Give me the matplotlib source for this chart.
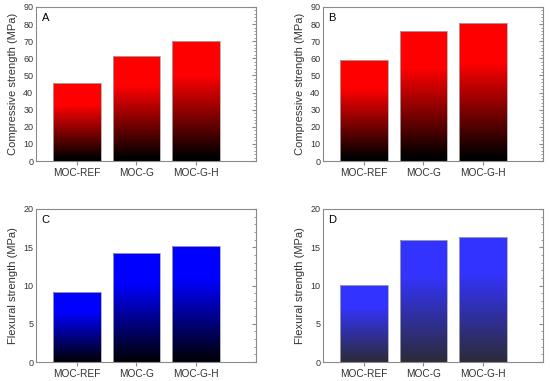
import matplotlib
matplotlib.use("Agg")
import matplotlib.pyplot as plt
import numpy as np
from matplotlib.colors import LinearSegmentedColormap
from matplotlib.ticker import MultipleLocator

plt.rcParams["font.family"] = ["Liberation Sans", "DejaVu Sans"]

samples = ["MOC-REF", "MOC-G", "MOC-G-H"]
comp_a = [45.7, 61.5, 70.2]
comp_b = [59.0, 75.8, 80.5]
flex_c = [9.1, 14.3, 15.1]
flex_d = [10.1, 15.9, 16.3]

GREY = "#8a8a8a"
TEXT = "#333333"
N_SLICES = 120


def ramp(bottom, top, name):
    return LinearSegmentedColormap.from_list(name, [(0.0, bottom), (0.03, bottom), (0.72, top), (1.0, top)])


def gradient_bars(ax, values, cmap):
    x = np.arange(1, len(values) + 1)
    t = (np.arange(N_SLICES) + 0.5) / N_SLICES
    for xi, v in zip(x, values):
        step = v / N_SLICES
        ax.bar(np.full(N_SLICES, xi), step * 1.02, bottom=np.arange(N_SLICES) * step,
               width=0.8, color=cmap(t), linewidth=0, antialiased=False, zorder=2)
    ax.bar(x, values, width=0.8, fill=False, edgecolor="#a8a8a8", linewidth=0.6, zorder=3)
    ax.set_xticks(x)
    ax.set_xticklabels(samples, fontsize=7.3, color=TEXT)


def style(ax, ymax, major, minor, ylabel, letter):
    ax.set_xlim(0.32, 4.0)
    ax.set_ylim(0, ymax)
    ax.yaxis.set_major_locator(MultipleLocator(major))
    ax.yaxis.set_minor_locator(MultipleLocator(minor))
    for s in ax.spines.values():
        s.set_color(GREY)
        s.set_linewidth(0.8)
        s.set_zorder(4)
    ax.tick_params(axis="y", which="both", left=False, right=True, direction="in",
                   colors=GREY, labelcolor=TEXT, labelsize=6.5, pad=2)
    ax.tick_params(axis="y", which="major", length=3)
    ax.tick_params(axis="y", which="minor", length=1.5)
    ax.tick_params(axis="x", which="major", direction="out", length=3, colors=GREY,
                   labelcolor=TEXT, pad=2)
    ax.set_ylabel(ylabel, fontsize=8, color=TEXT, labelpad=4)
    ax.text(0.025, 0.96, letter, transform=ax.transAxes, fontsize=8, color="black",
            ha="left", va="top")


fig = plt.figure(figsize=(5.5, 3.81), dpi=100)
W, H = 550, 381
def add(l, t, r, b):
    return fig.add_axes([l / W, 1 - b / H, (r - l) / W, (b - t) / H])

ax_a = add(36, 7, 256, 161)
ax_b = add(323, 7, 543, 161)
ax_c = add(36, 209, 256, 362)
ax_d = add(323, 209, 543, 362)

red = ramp((0.0, 0.0, 0.0), (1.0, 0.0, 0.0), "red")
blue = ramp((0.0, 0.0, 0.05), (0.0, 0.0, 1.0), "blue")
blue2 = ramp((0.17, 0.17, 0.25), (0.2, 0.2, 1.0), "blue2")

gradient_bars(ax_a, comp_a, red)
style(ax_a, 90, 10, 2, "Compressive strength (MPa)", "A")
gradient_bars(ax_b, comp_b, red)
style(ax_b, 90, 10, 2, "Compressive strength (MPa)", "B")
gradient_bars(ax_c, flex_c, blue)
style(ax_c, 20, 5, 1, "Flexural strength (MPa)", "C")
gradient_bars(ax_d, flex_d, blue2)
style(ax_d, 20, 5, 1, "Flexural strength (MPa)", "D")

fig.savefig("out.png", dpi=100)
